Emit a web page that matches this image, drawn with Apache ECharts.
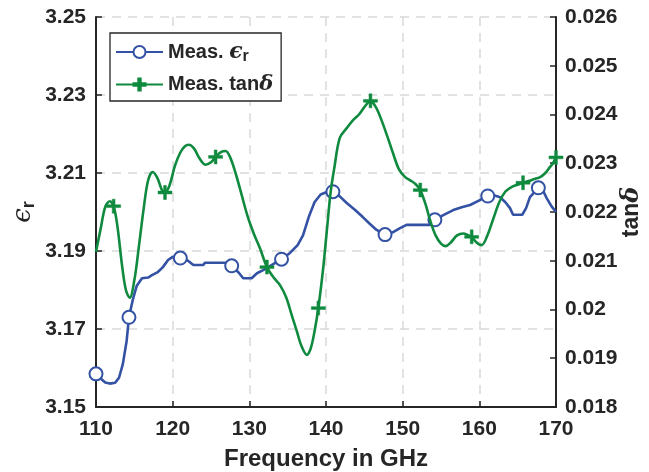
<!DOCTYPE html>
<html>
<head>
<meta charset="utf-8">
<script src="https://cdn.jsdelivr.net/npm/echarts@6/dist/echarts.min.js"></script>
<style>
html,body{margin:0;padding:0;background:#fff;overflow:hidden;width:649px;height:472px;}
#chart{position:absolute;left:0;top:0;width:649px;height:472px;}
</style>
</head>
<body>
<div id="chart"></div>
<script>
// ---- data ----
const epsFreq = [110.0,110.5,111.2,111.8,112.5,113.0,113.5,114.0,114.3,114.8,115.3,116.0,116.8,117.3,118.0,118.7,119.4,120.0,121.0,122.0,122.7,124.0,124.2,127.0,127.7,128.6,129.2,130.3,131.0,131.8,132.9,134.2,135.3,136.3,137.0,137.8,138.5,139.3,140.2,140.9,141.8,142.7,143.8,144.8,145.7,146.6,147.7,148.7,149.6,150.5,153.6,154.2,155.3,156.6,157.7,158.8,160.0,161.1,162.0,162.7,163.4,164.0,164.4,165.6,166.1,166.6,167.7,168.3,168.8,169.4,170.0];
const epsVals = [3.1585,3.1575,3.1563,3.1560,3.1562,3.1575,3.1610,3.1670,3.1730,3.1775,3.1810,3.1830,3.1832,3.1838,3.1845,3.1858,3.1877,3.1885,3.1882,3.1875,3.1864,3.1864,3.1870,3.1870,3.1862,3.1845,3.1830,3.1830,3.1843,3.1851,3.1864,3.1879,3.1895,3.1915,3.1940,3.1990,3.2025,3.2045,3.2052,3.2052,3.2040,3.2023,3.2005,3.1987,3.1970,3.1954,3.1942,3.1948,3.1958,3.1967,3.1967,3.1980,3.1992,3.2005,3.2012,3.2018,3.2030,3.2041,3.2042,3.2038,3.2025,3.2010,3.1993,3.1993,3.2010,3.2038,3.2062,3.2055,3.2035,3.2015,3.2000];
const epsMarkerFreq = [110.0,114.3,121.0,127.7,134.2,140.9,147.7,154.2,161.1,167.7];

const tanFreq = [110.0,110.6,111.2,111.8,112.3,112.8,113.4,113.9,114.4,115.0,115.6,116.2,116.8,117.4,118.0,118.6,119.0,119.6,120.3,121.0,121.6,122.1,122.8,123.5,124.3,125.0,125.6,126.3,126.9,127.5,128.2,129.0,129.8,130.6,131.4,132.3,133.2,134.0,134.8,135.5,136.2,136.8,137.5,138.0,138.5,139.0,139.6,140.1,140.6,141.1,141.8,142.7,143.5,144.3,145.0,145.8,146.5,147.2,148.0,148.8,149.5,150.3,151.0,151.7,152.3,153.0,153.6,154.3,155.0,155.6,156.3,157.1,157.9,158.6,159.0,159.6,160.3,161.0,161.8,162.6,163.4,164.3,165.0,165.7,166.5,167.3,168.0,168.6,169.2,169.6,170.0];
const tanVals = [0.02118,0.02165,0.02210,0.02222,0.02212,0.02170,0.02090,0.02040,0.02024,0.02060,0.02130,0.02205,0.02265,0.02282,0.02270,0.02245,0.02240,0.02255,0.02295,0.02322,0.02335,0.02338,0.02330,0.02310,0.02297,0.02302,0.02313,0.02323,0.02325,0.02312,0.02280,0.02235,0.02190,0.02155,0.02125,0.02087,0.02065,0.02050,0.02025,0.01990,0.01955,0.01925,0.01907,0.01920,0.01955,0.02003,0.02080,0.02160,0.02240,0.02292,0.02352,0.02372,0.02388,0.02400,0.02415,0.02428,0.02415,0.02390,0.02355,0.02318,0.02288,0.02272,0.02265,0.02257,0.02245,0.02215,0.02182,0.02152,0.02135,0.02130,0.02138,0.02152,0.02156,0.02152,0.02149,0.02138,0.02132,0.02150,0.02185,0.02220,0.02242,0.02252,0.02256,0.02260,0.02264,0.02268,0.02272,0.02280,0.02292,0.02300,0.02312];
const tanMarkerFreq = [112.3,119.0,125.6,132.3,139.0,145.8,152.3,159.0,165.7,170.0];

const xMin = 110, xMax = 170, xStep = 10;
const epsMin = 3.15, epsMax = 3.25, epsStep = 0.02;
const tanMin = 0.018, tanMax = 0.026, tanStep = 0.001;

const BLUE = '#3452a4';
const GREEN = '#0f8a3e';
const INK = '#262626';
const FONT = '"Liberation Sans", Arial, sans-serif';
const PLUS = 'path://M-0.2,-1H0.2V-0.2H1V0.2H0.2V1H-0.2V0.2H-1V-0.2H-0.2Z';

function build(fs, vs, marks, sym) {
  return fs.map((f, i) => ({ value: [f, vs[i]], symbol: marks.indexOf(f) >= 0 ? sym : 'none' }));
}

const chart = echarts.init(document.getElementById('chart'), null, { renderer: 'canvas', width: 649, height: 472 });
const tickLabel = { color: INK, fontWeight: 'bold', fontSize: 21, fontFamily: FONT };
const grid = { lineStyle: { color: '#d9d9d9', width: 1.5, type: [9, 7] } };

chart.setOption({
  animation: false,
  backgroundColor: '#fff',
  grid: { left: 96, right: 93, top: 17, bottom: 65, containLabel: false, outerBoundsMode: 'none' },
  legend: {
    left: 110, top: 33, orient: 'vertical',
    backgroundColor: '#fff', borderColor: INK, borderWidth: 1.3,
    padding: [8, 8, 6, 5], itemWidth: 47, itemHeight: 15, itemGap: 9,
    formatter: function (n) { return n === 'eps' ? 'Meas. {e|ϵ}{s|r}' : 'Meas. tan{d|δ}'; },
    textStyle: {
      color: INK, fontWeight: 'bold', fontSize: 20, fontFamily: FONT,
      rich: {
        e: { fontSize: 22, fontStyle: 'italic', fontFamily: '"DejaVu Serif", serif', color: INK },
        s: { fontSize: 16, fontWeight: 'bold', fontFamily: FONT, color: INK, padding: [10, 0, 0, 0] },
        d: { fontSize: 21, fontStyle: 'italic', fontFamily: '"DejaVu Serif", serif', color: INK }
      }
    },
    data: ['eps', 'tan']
  },
  xAxis: {
    type: 'value', min: xMin, max: xMax, interval: xStep,
    name: 'Frequency in GHz', nameLocation: 'middle', nameGap: 40,
    nameTextStyle: { color: INK, fontWeight: 'bold', fontSize: 24, fontFamily: FONT },
    axisLine: { lineStyle: { color: INK, width: 2 } },
    axisTick: { inside: true, length: 6, lineStyle: { color: INK, width: 1.5 } },
    axisLabel: Object.assign({ margin: 12 }, tickLabel),
    splitLine: Object.assign({ show: true }, grid)
  },
  yAxis: [{
    type: 'value', position: 'left', min: epsMin, max: epsMax, interval: epsStep,
    name: '{e|ϵ}{s|r}', nameLocation: 'middle', nameGap: 58, nameMoveOverlap: false,
    nameTextStyle: {
      rich: {
        e: { fontSize: 26, fontStyle: 'italic', fontFamily: '"DejaVu Serif", serif', color: INK },
        s: { fontSize: 18, fontWeight: 'bold', fontFamily: FONT, color: INK, padding: [12, 0, 0, 0] }
      }
    },
    axisLine: { show: true, lineStyle: { color: INK, width: 2 } },
    axisTick: { show: true, inside: true, length: 6, lineStyle: { color: INK, width: 1.5 } },
    axisLabel: Object.assign({ margin: 10 }, tickLabel),
    splitLine: Object.assign({ show: true }, grid)
  }, {
    type: 'value', position: 'right', min: tanMin, max: tanMax, interval: tanStep,
    name: 'tan{d|δ}', nameLocation: 'middle', nameGap: 64, nameMoveOverlap: false,
    nameTextStyle: {
      color: INK, fontWeight: 'bold', fontSize: 23, fontFamily: FONT,
      rich: { d: { fontSize: 24, fontStyle: 'italic', fontFamily: '"DejaVu Serif", serif', color: INK } }
    },
    axisLine: { show: true, lineStyle: { color: INK, width: 2 } },
    axisTick: { show: true, inside: true, length: 6, lineStyle: { color: INK, width: 1.5 } },
    axisLabel: Object.assign({ margin: 9 }, tickLabel),
    splitLine: { show: false }
  }],
  series: [{
    name: 'eps', type: 'line', yAxisIndex: 0,
    symbol: 'emptyCircle', symbolSize: 13, showSymbol: true,
    lineStyle: { color: BLUE, width: 2.6 },
    itemStyle: { color: BLUE, borderColor: BLUE, borderWidth: 2.2 },
    data: build(epsFreq, epsVals, epsMarkerFreq, 'emptyCircle'),
    z: 2
  }, {
    name: 'tan', type: 'line', yAxisIndex: 1, smooth: 0.35,
    symbol: PLUS, symbolSize: 14, showSymbol: true,
    lineStyle: { color: GREEN, width: 2.6 },
    itemStyle: { color: GREEN, borderColor: GREEN, borderWidth: 0.5 },
    data: build(tanFreq, tanVals, tanMarkerFreq, PLUS),
    z: 3
  }]
});
</script>
</body>
</html>
